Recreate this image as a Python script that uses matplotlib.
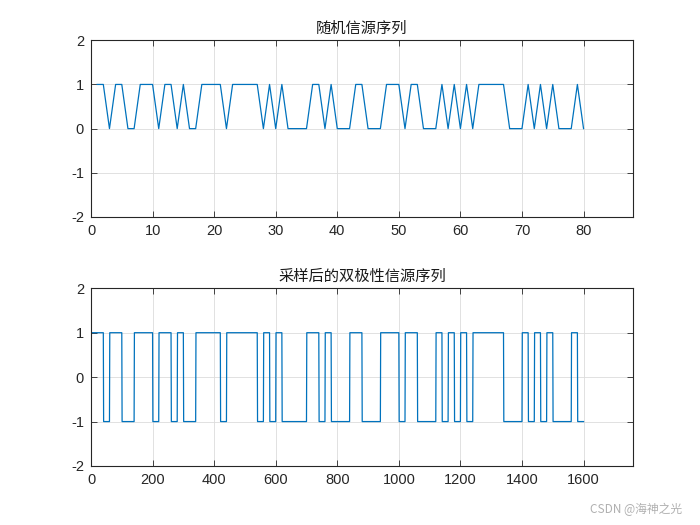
import numpy as np
import matplotlib.pyplot as plt

plt.rcParams['font.family'] = ['Liberation Sans', 'Noto Sans CJK SC', 'DejaVu Sans']
plt.rcParams['axes.unicode_minus'] = False

# random binary source, 80 bits
bits = [1, 1, 0, 1, 1, 0, 0, 1, 1, 1,
        0, 1, 1, 0, 1, 0, 0, 1, 1, 1,
        1, 0, 1, 1, 1, 1, 1, 0, 1, 0,
        1, 0, 0, 0, 0, 1, 1, 0, 1, 0,
        0, 0, 1, 1, 0, 0, 0, 1, 1, 1,
        0, 1, 1, 0, 0, 0, 1, 0, 1, 0,
        1, 0, 1, 1, 1, 1, 1, 0, 0, 0,
        1, 0, 1, 0, 1, 0, 0, 0, 1, 0]
samples_per_bit = 20
title_top = '随机信源序列'
title_bottom = '采样后的双极性信源序列'
xticks_top = [0, 10, 20, 30, 40, 50, 60, 70, 80]
xticks_bottom = [0, 200, 400, 600, 800, 1000, 1200, 1400, 1600]
yticks = [-2, -1, 0, 1, 2]

bits = np.array(bits)
n1 = np.arange(1, len(bits) + 1)
bipolar = np.repeat(2 * bits - 1, samples_per_bit)
n2 = np.arange(1, len(bipolar) + 1)

line_color = '#0072BD'
text_color = '#262626'

fig = plt.figure(figsize=(7, 5.25), dpi=100)
ax1 = fig.add_axes([0.13, 0.5867, 0.774, 0.3366])
ax2 = fig.add_axes([0.13, 0.1124, 0.774, 0.3385])

for ax, x, y, xt, xl, title in [
        (ax1, n1, bits, xticks_top, 88, title_top),
        (ax2, n2, bipolar, xticks_bottom, 1760, title_bottom)]:
    ax.plot(x, y, color=line_color, linewidth=0.9)
    ax.set_xlim(0, xl)
    ax.set_ylim(-2, 2)
    ax.set_xticks(xt)
    ax.set_yticks(yticks)
    ax.grid(True, color='#dcdcdc', linewidth=0.6)
    ax.set_axisbelow(True)
    ax.tick_params(direction='in', top=True, right=True, length=4,
                   width=0.6, labelsize=10.5, colors=text_color,
                   labelcolor=text_color, pad=5)
    for s in ax.spines.values():
        s.set_color(text_color)
        s.set_linewidth(0.8)
    ax.set_title(title, fontsize=11, color='#1a1a1a', pad=5,
                 family=['Noto Sans CJK SC', 'DejaVu Sans'])

fig.text(0.843, 0.022, 'CSDN @海神之光', fontsize=8.5, color='#b0b0b0',
         family=['Noto Sans CJK SC', 'DejaVu Sans'])

fig.savefig('out.png', dpi=100, facecolor='white')
